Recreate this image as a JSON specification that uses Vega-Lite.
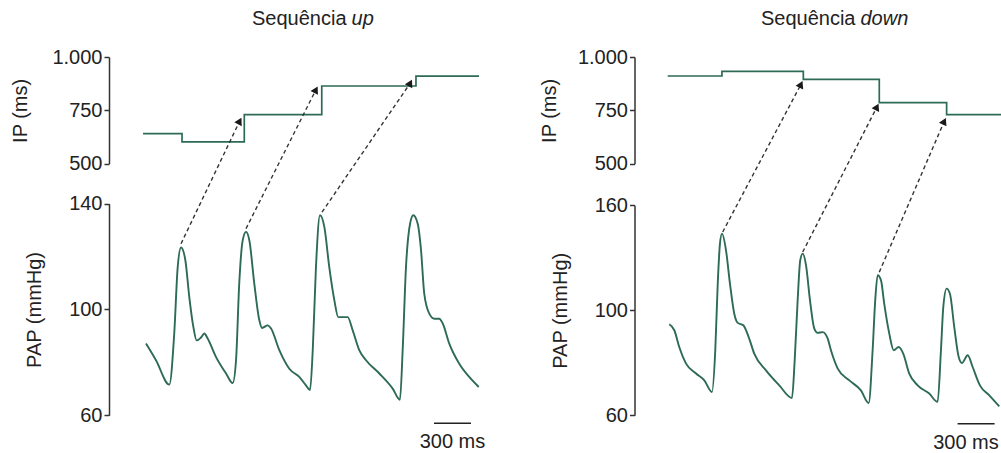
{
  "$schema": "https://vega.github.io/schema/vega-lite/v6.json",
  "padding": {"left": 10, "top": 9, "right": 0, "bottom": 0},
  "bounds": "flush",
  "spacing": 155.5,
  "config": {
    "view": {"stroke": null},
    "font": "Liberation Sans",
    "axis": {
      "grid": false,
      "domainColor": "#333333",
      "tickColor": "#333333",
      "domainWidth": 1.5,
      "tickWidth": 1.5,
      "tickSize": 5,
      "labelPadding": 2,
      "labelFont": "Liberation Sans",
      "titleFont": "Liberation Sans",
      "labelFontSize": 20,
      "titleFontSize": 20,
      "titleFontWeight": "normal",
      "labelColor": "#222222",
      "titleColor": "#222222"
    },
    "text": {"font": "Liberation Sans", "fontSize": 20, "color": "#222222"}
  },
  "datasets": {
    "ipUp": [
      {"t": 276, "ip": 641}, {"t": 592, "ip": 602}, {"t": 1097, "ip": 730},
      {"t": 1725, "ip": 864}, {"t": 2489, "ip": 910}, {"t": 3000, "ip": 910}
    ],
    "ipDown": [
      {"t": 269, "ip": 911}, {"t": 709, "ip": 933}, {"t": 1369, "ip": 895},
      {"t": 1985, "ip": 786}, {"t": 2531, "ip": 730}, {"t": 2972, "ip": 730}
    ],
    "arrowsUp": [
      {"t0": 584, "ip0": 125, "t1": 1060, "ip1": 700},
      {"t0": 1111, "ip0": 196, "t1": 1678, "ip1": 847},
      {"t0": 1727, "ip0": 273, "t1": 2443, "ip1": 878}
    ],
    "arrowsDown": [
      {"t0": 715, "ip0": 180, "t1": 1350, "ip1": 872},
      {"t0": 1364, "ip0": 86, "t1": 1966, "ip1": 766},
      {"t0": 1985, "ip0": -8, "t1": 2512, "ip1": 699}
    ],
    "papUp": [
      {"t": 300, "p": 87.1}, {"t": 381, "p": 80.8}, {"t": 489, "p": 71.6}, {"t": 529, "p": 90.9},
      {"t": 557, "p": 116.0}, {"t": 584, "p": 123.4}, {"t": 619, "p": 118.6}, {"t": 651, "p": 104.7},
      {"t": 684, "p": 93.4}, {"t": 711, "p": 88.3}, {"t": 746, "p": 89.4}, {"t": 773, "p": 90.9},
      {"t": 800, "p": 89.0}, {"t": 868, "p": 82.0}, {"t": 949, "p": 75.8}, {"t": 1003, "p": 72.2},
      {"t": 1030, "p": 80.8}, {"t": 1056, "p": 109.8}, {"t": 1084, "p": 126.1}, {"t": 1111, "p": 129.3},
      {"t": 1138, "p": 126.1}, {"t": 1178, "p": 109.8}, {"t": 1219, "p": 95.9}, {"t": 1241, "p": 93.0},
      {"t": 1287, "p": 94.0}, {"t": 1314, "p": 92.8}, {"t": 1381, "p": 84.6}, {"t": 1462, "p": 77.6},
      {"t": 1543, "p": 74.5}, {"t": 1597, "p": 71.3}, {"t": 1630, "p": 69.5}, {"t": 1652, "p": 84.6},
      {"t": 1678, "p": 116.0}, {"t": 1711, "p": 135.6}, {"t": 1746, "p": 131.2}, {"t": 1786, "p": 116.0},
      {"t": 1827, "p": 103.5}, {"t": 1859, "p": 97.1}, {"t": 1895, "p": 97.1}, {"t": 1935, "p": 97.1},
      {"t": 1976, "p": 92.1}, {"t": 2029, "p": 84.6}, {"t": 2084, "p": 80.8}, {"t": 2192, "p": 75.8},
      {"t": 2300, "p": 70.1}, {"t": 2359, "p": 65.9}, {"t": 2381, "p": 84.6}, {"t": 2408, "p": 116.0},
      {"t": 2441, "p": 132.4}, {"t": 2467, "p": 135.6}, {"t": 2503, "p": 132.4}, {"t": 2530, "p": 122.4},
      {"t": 2556, "p": 106.0}, {"t": 2597, "p": 98.4}, {"t": 2638, "p": 96.5}, {"t": 2678, "p": 96.5},
      {"t": 2706, "p": 94.7}, {"t": 2759, "p": 87.1}, {"t": 2840, "p": 79.5}, {"t": 2921, "p": 74.5},
      {"t": 2998, "p": 70.7}
    ],
    "papDown": [
      {"t": 282, "p": 94.7}, {"t": 323, "p": 92.4}, {"t": 363, "p": 86.0}, {"t": 418, "p": 79.7},
      {"t": 499, "p": 75.9}, {"t": 566, "p": 73.3}, {"t": 628, "p": 68.9}, {"t": 655, "p": 84.8},
      {"t": 675, "p": 115.3}, {"t": 693, "p": 138.1}, {"t": 709, "p": 143.8}, {"t": 742, "p": 134.3},
      {"t": 774, "p": 115.3}, {"t": 809, "p": 98.7}, {"t": 837, "p": 95.2}, {"t": 882, "p": 94.3},
      {"t": 926, "p": 89.8}, {"t": 971, "p": 83.5}, {"t": 1066, "p": 77.1}, {"t": 1174, "p": 71.4},
      {"t": 1277, "p": 66.6}, {"t": 1299, "p": 81.0}, {"t": 1323, "p": 105.7}, {"t": 1344, "p": 128.6},
      {"t": 1364, "p": 132.4}, {"t": 1391, "p": 125.7}, {"t": 1423, "p": 105.7}, {"t": 1458, "p": 93.0},
      {"t": 1485, "p": 91.4}, {"t": 1526, "p": 91.7}, {"t": 1566, "p": 89.3}, {"t": 1593, "p": 84.8},
      {"t": 1648, "p": 77.8}, {"t": 1742, "p": 73.3}, {"t": 1836, "p": 69.5}, {"t": 1899, "p": 64.7},
      {"t": 1931, "p": 84.8}, {"t": 1952, "p": 105.7}, {"t": 1972, "p": 120.0}, {"t": 1999, "p": 117.1},
      {"t": 2025, "p": 103.8}, {"t": 2066, "p": 91.1}, {"t": 2102, "p": 84.8}, {"t": 2142, "p": 86.0},
      {"t": 2179, "p": 83.5}, {"t": 2228, "p": 75.9}, {"t": 2296, "p": 71.4}, {"t": 2390, "p": 68.3},
      {"t": 2458, "p": 65.1}, {"t": 2485, "p": 84.8}, {"t": 2504, "p": 101.9}, {"t": 2531, "p": 112.4},
      {"t": 2558, "p": 109.5}, {"t": 2593, "p": 93.6}, {"t": 2629, "p": 82.2}, {"t": 2655, "p": 79.9},
      {"t": 2702, "p": 82.9}, {"t": 2742, "p": 78.4}, {"t": 2801, "p": 71.4}, {"t": 2877, "p": 67.6},
      {"t": 2958, "p": 63.4}
    ]
  },
  "hconcat": [
    {
      "width": 370,
      "height": 358,
      "resolve": {"scale": {"y": "independent"}},
      "layer": [
        {
          "layer": [
            {
              "data": {"name": "ipUp"},
              "mark": {"type": "line", "interpolate": "step-after", "color": "#2d6b55", "strokeWidth": 1.7},
              "encoding": {
                "x": {"field": "t", "type": "quantitative", "scale": {"domain": [0, 3000], "nice": false, "zero": false}, "axis": null},
                "y": {"field": "ip", "type": "quantitative",
                  "scale": {"domain": [500, 1000], "range": [106.7, 0], "nice": false, "zero": false},
                  "axis": {"orient": "left", "values": [500, 750, 1000], "format": ",d", "labelExpr": "replace(datum.label, ',', '.')", "title": "IP (ms)", "titlePadding": 21}}
              }
            },
            {
              "data": {"name": "arrowsUp"},
              "mark": {"type": "rule", "strokeDash": [4, 3], "color": "#333333", "strokeWidth": 1.4},
              "encoding": {
                "x": {"field": "t0", "type": "quantitative", "scale": {"domain": [0, 3000], "nice": false, "zero": false}},
                "x2": {"field": "t1"},
                "y": {"field": "ip0", "type": "quantitative", "scale": {"domain": [500, 1000], "range": [106.7, 0], "nice": false, "zero": false}},
                "y2": {"field": "ip1"}
              }
            },
            {
              "data": {"name": "arrowsUp"},
              "mark": {"type": "point", "shape": "triangle-up", "filled": true, "size": 70, "angle": 28, "color": "#1a1a1a", "opacity": 1},
              "encoding": {
                "x": {"field": "t1", "type": "quantitative", "scale": {"domain": [0, 3000], "nice": false, "zero": false}},
                "y": {"field": "ip1", "type": "quantitative", "scale": {"domain": [500, 1000], "range": [106.7, 0], "nice": false, "zero": false}}
              }
            },
            {
              "data": {"values": [{}]},
              "mark": {"type": "text", "align": "right", "baseline": "alphabetic", "dx": -2},
              "encoding": {
                "x": {"datum": 1942, "type": "quantitative", "scale": {"domain": [0, 3000], "nice": false, "zero": false}},
                "y": {"datum": 1149, "type": "quantitative", "scale": {"domain": [500, 1000], "range": [106.7, 0], "nice": false, "zero": false}},
                "text": {"value": "Sequência"}
              }
            },
            {
              "data": {"values": [{}]},
              "mark": {"type": "text", "align": "left", "baseline": "alphabetic", "dx": 3, "fontStyle": "italic"},
              "encoding": {
                "x": {"datum": 1942, "type": "quantitative", "scale": {"domain": [0, 3000], "nice": false, "zero": false}},
                "y": {"datum": 1149, "type": "quantitative", "scale": {"domain": [500, 1000], "range": [106.7, 0], "nice": false, "zero": false}},
                "text": {"value": "up"}
              }
            }
          ]
        },
        {
          "layer": [
            {
              "data": {"name": "papUp"},
              "mark": {"type": "line", "interpolate": "monotone", "color": "#2d6b55", "strokeWidth": 1.9},
              "encoding": {
                "x": {"field": "t", "type": "quantitative", "scale": {"domain": [0, 3000], "nice": false, "zero": false}, "axis": null},
                "y": {"field": "p", "type": "quantitative",
                  "scale": {"domain": [60, 140], "range": [358.3, 146.6], "nice": false, "zero": false},
                  "axis": {"orient": "left", "values": [60, 100, 140], "title": "PAP (mmHg)", "titlePadding": 24}}
              }
            },
            {
              "data": {"values": [{}]},
              "mark": {"type": "rule", "color": "#222222", "strokeWidth": 1.5},
              "encoding": {
                "x": {"datum": 2635, "type": "quantitative", "scale": {"domain": [0, 3000], "nice": false, "zero": false}},
                "x2": {"datum": 2935},
                "y": {"datum": 57, "type": "quantitative", "scale": {"domain": [60, 140], "range": [358.3, 146.6], "nice": false, "zero": false}}
              }
            },
            {
              "data": {"values": [{}]},
              "mark": {"type": "text", "align": "center", "baseline": "alphabetic"},
              "encoding": {
                "x": {"datum": 2785, "type": "quantitative", "scale": {"domain": [0, 3000], "nice": false, "zero": false}},
                "y": {"datum": 47.5, "type": "quantitative", "scale": {"domain": [60, 140], "range": [358.3, 146.6], "nice": false, "zero": false}},
                "text": {"value": "300 ms"}
              }
            }
          ]
        }
      ]
    },
    {
      "width": 367,
      "height": 358,
      "resolve": {"scale": {"y": "independent"}},
      "layer": [
        {
          "layer": [
            {
              "data": {"name": "ipDown"},
              "mark": {"type": "line", "interpolate": "step-after", "color": "#2d6b55", "strokeWidth": 1.7},
              "encoding": {
                "x": {"field": "t", "type": "quantitative", "scale": {"domain": [0, 2976], "nice": false, "zero": false}, "axis": null},
                "y": {"field": "ip", "type": "quantitative",
                  "scale": {"domain": [500, 1000], "range": [106.7, 0], "nice": false, "zero": false},
                  "axis": {"orient": "left", "values": [500, 750, 1000], "format": ",d", "labelExpr": "replace(datum.label, ',', '.')", "title": "IP (ms)", "titlePadding": 18}}
              }
            },
            {
              "data": {"name": "arrowsDown"},
              "mark": {"type": "rule", "strokeDash": [4, 3], "color": "#333333", "strokeWidth": 1.4},
              "encoding": {
                "x": {"field": "t0", "type": "quantitative", "scale": {"domain": [0, 2976], "nice": false, "zero": false}},
                "x2": {"field": "t1"},
                "y": {"field": "ip0", "type": "quantitative", "scale": {"domain": [500, 1000], "range": [106.7, 0], "nice": false, "zero": false}},
                "y2": {"field": "ip1"}
              }
            },
            {
              "data": {"name": "arrowsDown"},
              "mark": {"type": "point", "shape": "triangle-up", "filled": true, "size": 70, "angle": 26, "color": "#1a1a1a", "opacity": 1},
              "encoding": {
                "x": {"field": "t1", "type": "quantitative", "scale": {"domain": [0, 2976], "nice": false, "zero": false}},
                "y": {"field": "ip1", "type": "quantitative", "scale": {"domain": [500, 1000], "range": [106.7, 0], "nice": false, "zero": false}}
              }
            },
            {
              "data": {"values": [{}]},
              "mark": {"type": "text", "align": "right", "baseline": "alphabetic", "dx": -2},
              "encoding": {
                "x": {"datum": 1808, "type": "quantitative", "scale": {"domain": [0, 2976], "nice": false, "zero": false}},
                "y": {"datum": 1149, "type": "quantitative", "scale": {"domain": [500, 1000], "range": [106.7, 0], "nice": false, "zero": false}},
                "text": {"value": "Sequência"}
              }
            },
            {
              "data": {"values": [{}]},
              "mark": {"type": "text", "align": "left", "baseline": "alphabetic", "dx": 3, "fontStyle": "italic"},
              "encoding": {
                "x": {"datum": 1808, "type": "quantitative", "scale": {"domain": [0, 2976], "nice": false, "zero": false}},
                "y": {"datum": 1149, "type": "quantitative", "scale": {"domain": [500, 1000], "range": [106.7, 0], "nice": false, "zero": false}},
                "text": {"value": "down"}
              }
            }
          ]
        },
        {
          "layer": [
            {
              "data": {"name": "papDown"},
              "mark": {"type": "line", "interpolate": "monotone", "color": "#2d6b55", "strokeWidth": 1.9},
              "encoding": {
                "x": {"field": "t", "type": "quantitative", "scale": {"domain": [0, 2976], "nice": false, "zero": false}, "axis": null},
                "y": {"field": "p", "type": "quantitative",
                  "scale": {"domain": [60, 100, 160], "range": [358.3, 253.3, 148.3], "nice": false, "zero": false},
                  "axis": {"orient": "left", "values": [60, 100, 160], "title": "PAP (mmHg)", "titlePadding": 24}}
              }
            },
            {
              "data": {"values": [{}]},
              "mark": {"type": "rule", "color": "#222222", "strokeWidth": 1.5},
              "encoding": {
                "x": {"datum": 2620, "type": "quantitative", "scale": {"domain": [0, 2976], "nice": false, "zero": false}},
                "x2": {"datum": 2920},
                "y": {"datum": 56.8, "type": "quantitative", "scale": {"domain": [60, 100, 160], "range": [358.3, 253.3, 148.3], "nice": false, "zero": false}}
              }
            },
            {
              "data": {"values": [{}]},
              "mark": {"type": "text", "align": "center", "baseline": "alphabetic"},
              "encoding": {
                "x": {"datum": 2688, "type": "quantitative", "scale": {"domain": [0, 2976], "nice": false, "zero": false}},
                "y": {"datum": 47.3, "type": "quantitative", "scale": {"domain": [60, 100, 160], "range": [358.3, 253.3, 148.3], "nice": false, "zero": false}},
                "text": {"value": "300 ms"}
              }
            }
          ]
        }
      ]
    }
  ]
}
